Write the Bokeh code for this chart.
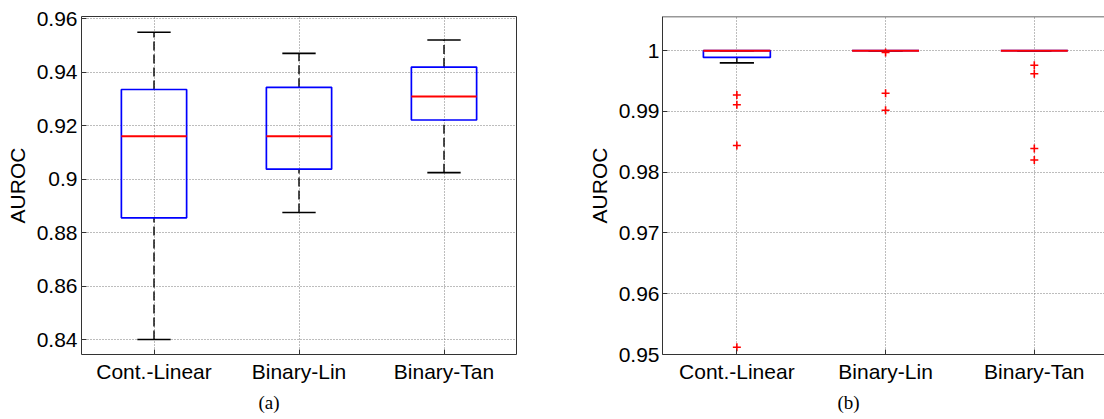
import numpy as np
from bokeh.plotting import figure
from bokeh.layouts import row
from bokeh.models import Range1d, FixedTicker, Title, ColumnDataSource, Span
from bokeh.transform import dodge
from bokeh.embed import file_html
from bokeh.resources import INLINE

# ---------------- data ----------------
categories = ["Cont.-Linear", "Binary-Lin", "Binary-Tan"]

# panel (a)
a_ticks = [0.84, 0.86, 0.88, 0.90, 0.92, 0.94, 0.96]
a_tick_labels = ["0.84", "0.86", "0.88", "0.9", "0.92", "0.94", "0.96"]
a_lower = [0.8401, 0.8876, 0.9025]
a_q1 = [0.8856, 0.9038, 0.9222]
a_median = [0.9161, 0.9161, 0.9310]
a_q3 = [0.9336, 0.9344, 0.9420]
a_upper = [0.9550, 0.9471, 0.9521]

# panel (b)
b_ticks = [0.95, 0.96, 0.97, 0.98, 0.99, 1.0]
b_tick_labels = ["0.95", "0.96", "0.97", "0.98", "0.99", "1"]
b_lower = [0.9980, 1.0, 1.0]
b_q1 = [0.9989, 1.0, 1.0]
b_median = [1.0, 1.0, 1.0]
b_q3 = [1.0, 1.0, 1.0]
b_upper = [1.0, 1.0, 1.0]
b_out_cont_linear = [0.9927, 0.9911, 0.9844, 0.9512]
b_out_binary_lin = [0.9997, 0.9930, 0.9902]
b_out_binary_tan = [0.9976, 0.9962, 0.9839, 0.9820]

FONT = "Liberation Sans"
BOX_W = 0.45
CAP_W = 0.23


def make_panel(lower, q1, med, q3, upper, yticks, ylabels, yrange, frame_w, frame_h,
               mb_left, mb_top, mb_right, mb_bottom, xend, caption, cap_offset,
               outliers=None, outline=True, ystandoff=4):
    pos = list(range(1, len(categories) + 1))
    src = ColumnDataSource(dict(x=pos, lower=lower, q1=q1, med=med, q3=q3, upper=upper))
    p = figure(frame_width=frame_w, frame_height=frame_h,
               x_range=Range1d(0.5, xend), y_range=Range1d(*yrange),
               output_backend="svg", toolbar_location=None,
               min_border_left=mb_left, min_border_top=mb_top,
               min_border_right=mb_right, min_border_bottom=mb_bottom,
               background_fill_color="white", border_fill_color="white")
    p.title_location = None
    # whiskers
    for a, b in (("q3", "upper"), ("lower", "q1")):
        p.segment(x0="x", y0=a, x1="x", y1=b, source=src, line_color="black",
                  line_width=1.4, line_dash="9 4")
    # caps
    for c in ("upper", "lower"):
        p.segment(x0=dodge("x", -CAP_W / 2), x1=dodge("x", CAP_W / 2), y0=c, y1=c,
                  source=src, line_color="black", line_width=1.6)
    # boxes
    p.vbar(x="x", width=BOX_W, bottom="q1", top="q3", source=src,
           fill_color=None, line_color="#0000ff", line_width=1.7)
    # medians
    p.segment(x0=dodge("x", -BOX_W / 2), x1=dodge("x", BOX_W / 2), y0="med", y1="med",
              source=src, line_color="#ff0000", line_width=2.0)
    if outliers is not None:
        ox, oy = [], []
        for xp, vals in zip(pos, outliers):
            ox += [xp] * len(vals)
            oy += list(vals)
        p.scatter(ox, oy, marker="cross", size=8, line_color="#ff0000", line_width=1.6)

    # axes
    p.xaxis.ticker = FixedTicker(ticks=pos)
    p.xaxis.major_label_overrides = {xp: c for xp, c in zip(pos, categories)}
    p.yaxis.ticker = FixedTicker(ticks=yticks)
    p.yaxis.major_label_overrides = {t: l for t, l in zip(yticks, ylabels)}
    p.yaxis.axis_label = "AUROC"
    for ax in (p.xaxis[0], p.yaxis[0]):
        ax.major_label_text_font = FONT
        ax.major_label_text_font_size = "21px"
        ax.major_label_text_color = "black"
        ax.major_tick_in = 5
        ax.major_tick_out = 0
        ax.minor_tick_in = 0
        ax.minor_tick_out = 0
        ax.major_tick_line_color = "#333333"
        ax.axis_line_color = None if outline else "#333333"
    p.xaxis.major_label_standoff = 5
    p.yaxis.major_label_standoff = ystandoff
    p.yaxis.axis_label_text_font = FONT
    p.yaxis.axis_label_text_font_size = "21px"
    p.yaxis.axis_label_text_font_style = "normal"
    p.yaxis.axis_label_text_color = "black"
    p.yaxis.axis_label_standoff = 5

    for g in (p.xgrid[0], p.ygrid[0]):
        g.grid_line_color = "#7a7a7a"
        g.grid_line_dash = "1 2"
        g.grid_line_width = 1

    if outline:
        p.outline_line_color = "#333333"
        p.outline_line_width = 1
    else:
        p.outline_line_color = None
        p.add_layout(Span(location=yrange[1], dimension="width",
                          line_color="#333333", line_width=1.5))

    p.add_layout(Title(text=caption, align="left", offset=cap_offset,
                       text_font="Liberation Serif", text_font_size="19px",
                       text_font_style="normal", text_color="black", standoff=8), "below")
    return p


pa = make_panel(a_lower, a_q1, a_median, a_q3, a_upper, a_ticks, a_tick_labels,
                (0.8345, 0.9609), 435, 338, 81, 16, 39, 65, 3.5, "(a)", 177,
                outline=True, ystandoff=4)
pb = make_panel(b_lower, b_q1, b_median, b_q3, b_upper, b_ticks, b_tick_labels,
                (0.95, 1.00563), 442, 338, 107, 16, 0, 65, 3.472, "(b)", 175,
                outliers=[b_out_cont_linear, b_out_binary_lin, b_out_binary_tan],
                outline=False, ystandoff=3)

layout = row(pa, pb)
open("out.html", "w").write(file_html(layout, INLINE))
